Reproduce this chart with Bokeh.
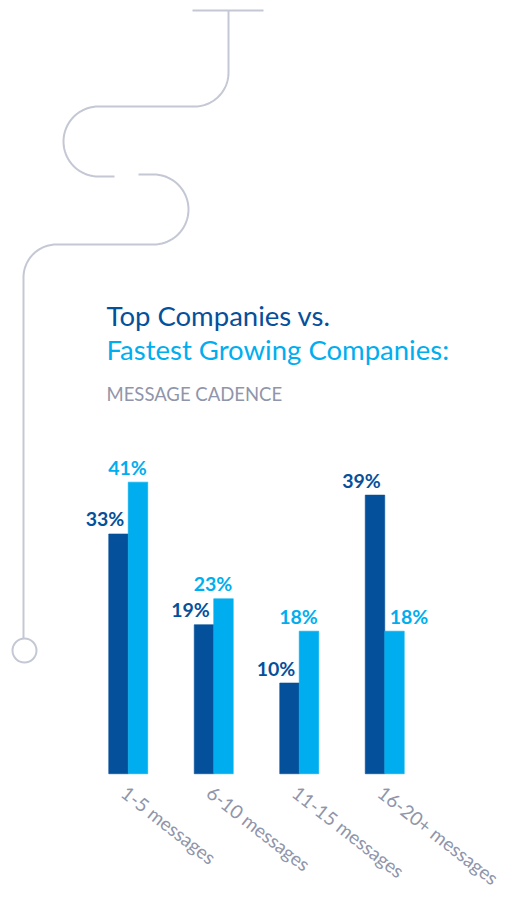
import numpy as np
from bokeh.plotting import figure
from bokeh.models import ColumnDataSource, Range1d
from bokeh.core.properties import value
from bokeh.embed import file_html
from bokeh.resources import INLINE

# ---------------- data ----------------
categories = ["1-5 messages", "6-10 messages", "11-15 messages", "16-20+ messages"]
top_companies = [33, 19, 10, 39]
fastest_growing = [41, 23, 18, 18]
title_line1 = "Top Companies vs."
title_line2 = "Fastest Growing Companies:"
subtitle = "MESSAGE CADENCE"

# ---------------- style ----------------
W, H = 505, 893
DARK = "#05509b"
LIGHT = "#00aeef"
GREY_TXT = "#8f95aa"
DECO = "#c4c8d4"
FONT = "Lato"
Y_FLOOR = -4.0          # bars start at the axis floor
PX_PER_UNIT = 6.48
Y_START = -22.48
BAR_W = 0.228
X_START = -1.494
X_PX_PER_UNIT = 85.5

p = figure(width=W, height=H, output_backend="svg", toolbar_location=None,
           x_range=Range1d(X_START, X_START + W / X_PX_PER_UNIT),
           y_range=Range1d(Y_START, Y_START + H / PX_PER_UNIT),
           x_axis_location=None, y_axis_location=None, min_border=0,
           outline_line_color=None, background_fill_color="white",
           border_fill_color="white")
p.grid.visible = False
# page-pixel ranges for the decoration and headings
p.extra_x_ranges = {"px": Range1d(0, W)}
p.extra_y_ranges = {"py": Range1d(H, 0)}


def arc(cx, cy, r, t0, t1, n=40):
    t = np.radians(np.linspace(t0, t1, n))
    return list(cx + r * np.cos(t)), list(cy + r * np.sin(t))


# decorative path
p.line([192, 263], [10, 10], x_range_name="px", y_range_name="py", line_color=DECO, line_width=2)
xs, ys = [228.0], [10.0]
ax, ay = arc(194, 72, 34, 0, 90); xs += ax; ys += ay
ax, ay = arc(98, 141, 35, 270, 90); xs += ax; ys += ay
xs += [114]; ys += [176]
p.line(xs, ys, x_range_name="px", y_range_name="py", line_color=DECO, line_width=2)
xs, ys = [138.0], [174.0]
ax, ay = arc(153, 209, 35, -90, 90); xs += ax; ys += ay
ax, ay = arc(56, 277, 33, -90, -180); xs += ax; ys += ay
xs += [23]; ys += [638]
p.line(xs, ys, x_range_name="px", y_range_name="py", line_color=DECO, line_width=2)
p.scatter([24], [650], x_range_name="px", y_range_name="py", size=24, marker="circle",
          fill_color=None, line_color=DECO, line_width=2)

# headings
p.text([106], [315], text=[title_line1], x_range_name="px", y_range_name="py",
       text_font=value(FONT), text_font_size="27.5px", text_color=DARK, text_baseline="alphabetic")
p.text([106], [348.5], text=[title_line2], x_range_name="px", y_range_name="py",
       text_font=value(FONT), text_font_size="27.5px", text_color=LIGHT, text_baseline="alphabetic")
p.text([106], [393], text=[subtitle], x_range_name="px", y_range_name="py",
       text_font=value(FONT), text_font_size="18.5px", text_color=GREY_TXT, text_baseline="alphabetic")

# bars
idx = np.arange(len(categories))
src = ColumnDataSource(dict(
    cat=categories, xc=idx, xd=idx - BAR_W / 2, xl=idx + BAR_W / 2,
    top=top_companies, fast=fastest_growing,
    top_lbl=[f"{v}%" for v in top_companies],
    fast_lbl=[f"{v}%" for v in fastest_growing],
    fast_off=[-20 if f >= t else 5 for t, f in zip(top_companies, fastest_growing)],
))
p.vbar(x="xd", top="top", bottom=Y_FLOOR, width=BAR_W,
       source=src, fill_color=DARK, line_color=DARK, line_width=0.6)
p.vbar(x="xl", top="fast", bottom=Y_FLOOR, width=BAR_W,
       source=src, fill_color=LIGHT, line_color=LIGHT, line_width=0.6)

# value labels
p.text(x="xc", y="top", text="top_lbl", source=src, x_offset=-4, y_offset=-15,
       text_align="right", text_baseline="alphabetic", text_font=value(FONT),
       text_font_size="19.5px", text_font_style="bold", text_color=DARK)
p.text(x="xc", y="fast", text="fast_lbl", source=src, x_offset="fast_off", y_offset=-15,
       text_align="left", text_baseline="alphabetic", text_font=value(FONT),
       text_font_size="19.5px", text_font_style="bold", text_color=LIGHT)

# category labels
p.text(x="xc", y=Y_FLOOR, text="cat", source=src, x_offset=3, y_offset=7,
       angle=-np.radians(38), text_align="left", text_baseline="top",
       text_font=value(FONT), text_font_size="19px", text_color=GREY_TXT)

open("out.html", "w").write(file_html(p, INLINE))
